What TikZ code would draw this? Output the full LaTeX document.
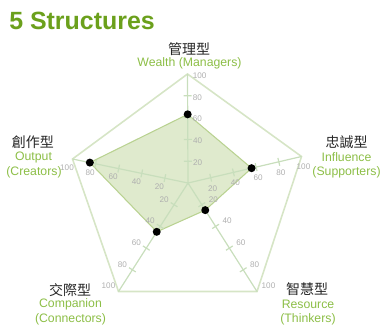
\documentclass[tikz,border=0pt]{standalone}
\usepackage{fontspec}
\setmainfont{Liberation Sans}
\newfontfamily\cjk{Noto Sans CJK TC}
\usetikzlibrary{calc}
\definecolor{titlegreen}{RGB}{107,160,28}
\definecolor{labgreen}{RGB}{140,190,70}
\definecolor{frameline}{RGB}{214,229,198}
\definecolor{axisline}{RGB}{200,222,188}
\definecolor{datafill}{RGB}{223,234,205}
\definecolor{dataline}{RGB}{185,210,145}
\definecolor{ticktext}{RGB}{175,175,175}
\tikzset{
  cjklabel/.style={font=\cjk\fontsize{10.5}{12}\selectfont, text=black!85, inner sep=0pt},
  enlabel/.style={font=\fontsize{9.2}{11}\selectfont, text=labgreen, inner sep=0pt},
  ticklab/.style={font=\fontsize{6.1}{7}\selectfont, text=ticktext, inner sep=0pt},
  axisstyle/.style={draw=axisline, line width=0.9pt},
  framestyle/.style={draw=frameline, line width=1.2pt},
  datapoly/.style={fill=datafill, draw=dataline, line width=0.8pt},
  dot/.style={circle, fill=black, inner sep=0pt, minimum size=6pt},
}
\begin{document}
\begin{tikzpicture}[x=0.75pt,y=-0.75pt]
\useasboundingbox (0,0) rectangle (381,329);
% geometry
\coordinate (C) at (188,183);
\coordinate (vT) at (187.5,74);
\coordinate (vR) at (301.5,156.5);
\coordinate (vLR) at (257,291.5);
\coordinate (vLL) at (118.5,291.5);
\coordinate (vL) at (72.5,159);
% title
\node[font=\bfseries\fontsize{18.7}{20}\selectfont, text=titlegreen, anchor=west, inner sep=0pt] (title) at (9,21) {5 Structures};
% frame
\draw[framestyle] (vT) -- (vR) -- (vLR) -- (vLL) -- (vL) -- cycle;
% data polygon
\coordinate (dT) at ($(C)!0.63!(vT)$);
\coordinate (dR) at ($(C)!0.56!(vR)$);
\coordinate (dLR) at ($(C)!0.25!(vLR)$);
\coordinate (dLL) at ($(C)!0.45!(vLL)$);
\coordinate (dL) at ($(C)!0.85!(vL)$);
\draw[datapoly] (dT) -- (dR) -- (dLR) -- (dLL) -- (dL) -- cycle;
% axes and ticks
\foreach \v in {vT,vR,vLR,vLL,vL}{
  \draw[axisstyle] (C) -- (\v);
  \foreach \f in {0.2,0.4,0.6,0.8,1.0}{
    \draw[axisstyle] ($($(C)!\f!(\v)$)!3pt!90:(\v)$) -- ($($(C)!\f!(\v)$)!3pt!-90:(\v)$);
  }
}
% tick labels
\foreach \f/\t in {0.2/20,0.4/40,0.6/60,0.8/80,1.0/100}{
  \node[ticklab, anchor=west] at ($(C)!\f!(vT)+(5,1.5)$) {\t};
  \node[ticklab] at ($(C)!\f!(vR)+(2,10.5)$) {\t};
  \node[ticklab] at ($(C)!\f!(vL)+(-5.5,8.5)$) {\t};
  \node[ticklab] at ($(C)!\f!(vLL)+(-10,-5.5)$) {\t};
  \node[ticklab] at ($(C)!\f!(vLR)+(11.5,-5.5)$) {\t};
}
% data points
\foreach \p in {dT,dR,dLR,dLL,dL}{
  \node[dot] (n\p) at (\p) {};
}
% category labels
\node[cjklabel] (topc) at (189,49) {管理型};
\node[enlabel] (tope) at (189.5,63) {Wealth (Managers)};
\node[cjklabel] (rc) at (346.5,142) {忠誠型};
\node[enlabel] (re1) at (346.5,157.5) {Influence};
\node[enlabel] (re2) at (346.5,172) {(Supporters)};
\node[cjklabel] (lc) at (33,142) {創作型};
\node[enlabel] (le1) at (33.5,157) {Output};
\node[enlabel] (le2) at (34,172) {(Creators)};
\node[cjklabel] (llc) at (70,290) {交際型};
\node[enlabel] (lle1) at (70.5,304.5) {Companion};
\node[enlabel] (lle2) at (70.5,319) {(Connectors)};
\node[cjklabel] (lrc) at (307,289) {智慧型};
\node[enlabel] (lre1) at (308,304) {Resource};
\node[enlabel] (lre2) at (308,319) {(Thinkers)};
\end{tikzpicture}
\end{document}
